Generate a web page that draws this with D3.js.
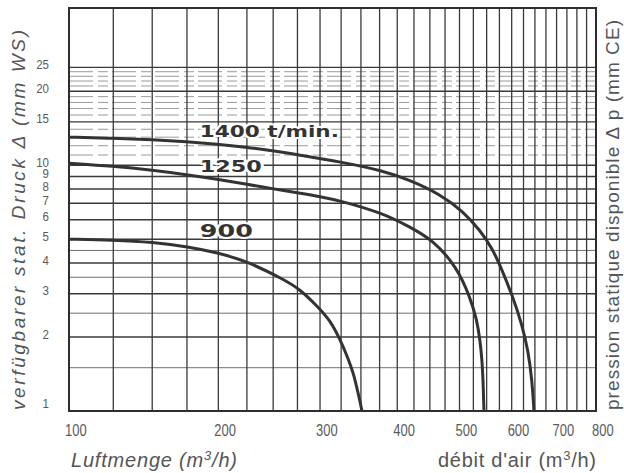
<!DOCTYPE html>
<html>
<head>
<meta charset="utf-8">
<script src="https://cdn.jsdelivr.net/npm/d3@7"></script>
<style>
  html, body { margin: 0; padding: 0; background: #fff; }
  svg { display: block; }
  .tick-label { font-family: "Liberation Sans", "DejaVu Sans", sans-serif; fill: #5a5a5a; }
  .title { font-family: "Liberation Sans", "Noto Sans", sans-serif; fill: #555; }
  .curve-label { font-family: "DejaVu Sans", sans-serif; font-weight: bold; fill: #333;
                 stroke: #fff; stroke-width: 4px; paint-order: stroke; stroke-linejoin: round; }
</style>
</head>
<body>
<svg id="chart" width="624" height="473"></svg>
<script>
// ---------- data ----------
const xTickValues = [100, 200, 300, 400, 500, 600, 700, 800];
const yTickValues = [1, 2, 3, 4, 5, 6, 7, 8, 9, 10, 15, 20, 25];
const yMajorGrid = [2, 3, 4, 5, 6, 7, 8, 9, 10, 15, 20, 25];
const yHalfGrid = [1.5, 2.5, 3.5, 4.5];
const yDashGrid = [11, 12, 13, 14, 16, 17, 18, 19, 21, 22, 23, 24];
const xGrid = d3.range(100, 801, 25);

const speeds = ["1400 t/min.", "1250", "900"];
const flow1400  = [100, 124.8, 150.5, 175, 198.9, 224.1, 248.8, 277.7, 323.6, 379.7, 418.9, 466.6, 506.2, 537.4, 560.4, 576.2, 602.7, 621.7, 634.8, 643.5, 648, 648];
const press1400 = [13.0, 12.88, 12.70, 12.46, 12.17, 11.83, 11.46, 10.98, 10.33, 9.50, 8.69, 7.62, 6.50, 5.44, 4.60, 3.92, 2.91, 2.24, 1.77, 1.34, 1.0, 0.95];
const flow1250  = [100, 124.8, 150.5, 175, 198.9, 224.1, 248.8, 277.7, 300, 323.6, 379.7, 418.9, 455, 495.5, 518.8, 531.7, 537.4, 541.2, 543.1, 544.9, 545];
const press1250 = [10.19, 9.91, 9.54, 9.15, 8.77, 8.37, 8.03, 7.69, 7.45, 7.17, 6.38, 5.60, 4.96, 3.85, 2.91, 2.34, 1.94, 1.61, 1.34, 1.0, 0.95];
const flow900   = [100, 124.8, 150.5, 176.2, 198.9, 225, 259.9, 277.7, 297.7, 311.6, 323.6, 333.5, 340.2, 346.2, 351.4, 352.5];
const press900  = [5.0, 4.96, 4.86, 4.66, 4.41, 4.07, 3.44, 3.13, 2.65, 2.34, 1.96, 1.64, 1.43, 1.19, 1.0, 0.95];

const xLabel = "Luftmenge (m³/h)";
const xLabel2 = "débit d'air (m³/h)";
const yLabel = "verfügbarer stat. Druck Δ (mm WS)";
const yLabel2 = "pression statique disponible Δ p (mm CE)";

// ---------- layout ----------
const L = 69, R = 596, T = 8, B = 411;
const svg = d3.select("#chart");

const x = d3.scaleSymlog().constant(70).domain([100, 800]).range([L, R]);
const y = d3.scaleLog().domain([1, 43.6]).range([B, T]);

svg.append("defs").append("clipPath").attr("id", "clip")
  .append("rect").attr("x", L).attr("y", T).attr("width", R - L).attr("height", B - T);

const grid = svg.append("g");
grid.selectAll(".hd").data(yDashGrid).join("line")
  .attr("x1", L).attr("x2", R).attr("y1", d => y(d)).attr("y2", d => y(d))
  .attr("stroke", "#999").attr("stroke-width", 1)
  .attr("stroke-dasharray", "24,5,10,4");
grid.selectAll(".hh").data(yHalfGrid).join("line")
  .attr("x1", L).attr("x2", R).attr("y1", d => y(d)).attr("y2", d => y(d))
  .attr("stroke", "#707070").attr("stroke-width", 1);
grid.selectAll(".hm").data(yMajorGrid).join("line")
  .attr("x1", L).attr("x2", R).attr("y1", d => y(d)).attr("y2", d => y(d))
  .attr("stroke", "#3a3a3a").attr("stroke-width", 1.4);
grid.selectAll(".v").data(xGrid).join("line")
  .attr("x1", d => x(d)).attr("x2", d => x(d)).attr("y1", T).attr("y2", B)
  .attr("stroke", "#3a3a3a").attr("stroke-width", 1.3);
svg.append("rect").attr("x", L).attr("y", T).attr("width", R - L).attr("height", B - T)
  .attr("fill", "none").attr("stroke", "#2e2e2e").attr("stroke-width", 2);

// ---------- curves ----------
const series = [
  { name: speeds[0], xs: flow1400, ys: press1400 },
  { name: speeds[1], xs: flow1250, ys: press1250 },
  { name: speeds[2], xs: flow900, ys: press900 }
];
const line = d3.line().x(d => x(d[0])).y(d => y(d[1])).curve(d3.curveBasis);
svg.append("g").attr("clip-path", "url(#clip)")
  .selectAll("path").data(series).join("path")
  .attr("d", s => line(s.xs.map((v, i) => [v, s.ys[i]])))
  .attr("fill", "none").attr("stroke", "#333").attr("stroke-width", 3)
  .attr("stroke-linecap", "round");

// curve labels (baseline given in pressure units)
const labelPos = [
  { v: 13.06, w: 139, fs: 16 },
  { v: 9.41, w: 62, fs: 15 },
  { v: 5.1, w: 53, fs: 17 }
];
svg.append("g").selectAll("text").data(series).join("text")
  .attr("class", "curve-label")
  .attr("x", x(185))
  .attr("y", (s, i) => y(labelPos[i].v))
  .attr("font-size", (s, i) => labelPos[i].fs)
  .attr("textLength", (s, i) => labelPos[i].w)
  .attr("lengthAdjust", "spacingAndGlyphs")
  .text(s => s.name);

// ---------- tick labels ----------
svg.append("g").selectAll("text").data(xTickValues).join("text")
  .attr("class", "tick-label")
  .attr("x", d => x(d) - 4).attr("y", 436)
  .attr("font-size", 16)
  .attr("textLength", d => String(d).length * 7.2)
  .attr("lengthAdjust", "spacingAndGlyphs")
  .text(d => d);

svg.append("g").selectAll("text").data(yTickValues).join("text")
  .attr("class", "tick-label")
  .attr("text-anchor", "end")
  .attr("x", 49)
  .attr("y", d => Math.min(y(d) + 1.5, B - 3))
  .attr("font-size", 12.5)
  .attr("textLength", d => String(d).length * 6.4)
  .attr("lengthAdjust", "spacingAndGlyphs")
  .text(d => d);

// ---------- titles ----------
const xt = svg.append("text").attr("class", "title")
  .attr("x", 71).attr("y", 467).attr("font-size", 20).attr("font-style", "italic")
  .attr("textLength", 166).attr("lengthAdjust", "spacing");
xt.append("tspan").text("Luftmenge (m");
xt.append("tspan").attr("font-size", 13).attr("dy", -7).text("3");
xt.append("tspan").attr("dy", 7).text("/h)");

const xt2 = svg.append("text").attr("class", "title")
  .attr("x", 438).attr("y", 467).attr("font-size", 20)
  .attr("textLength", 158).attr("lengthAdjust", "spacing");
xt2.append("tspan").text("débit d'air (m");
xt2.append("tspan").attr("font-size", 13).attr("dy", -7).text("3");
xt2.append("tspan").attr("dy", 7).text("/h)");

svg.append("text").attr("class", "title")
  .attr("transform", "translate(25,410) rotate(-90)")
  .attr("font-size", 19).attr("font-style", "italic")
  .attr("textLength", 380).attr("lengthAdjust", "spacing")
  .text(yLabel);

svg.append("text").attr("class", "title")
  .attr("transform", "translate(619,410) rotate(-90)")
  .attr("font-size", 19)
  .attr("textLength", 390).attr("lengthAdjust", "spacing")
  .text(yLabel2);
</script>
</body>
</html>
